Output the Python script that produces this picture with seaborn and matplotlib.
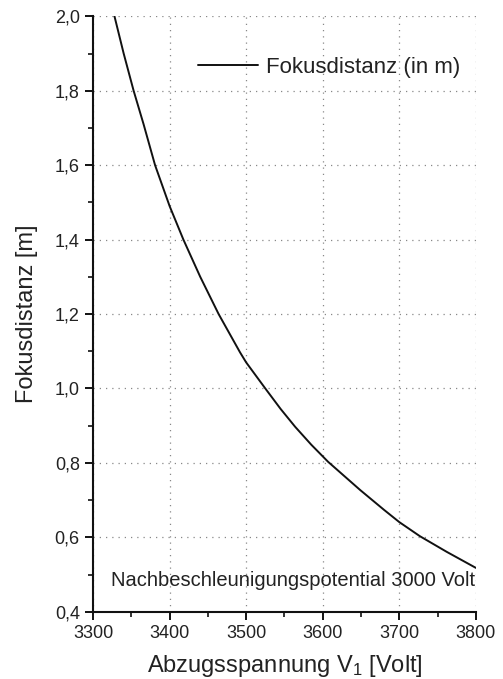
import matplotlib
matplotlib.use("Agg")
import matplotlib.pyplot as plt
import seaborn as sns
import pandas as pd
from matplotlib.ticker import MultipleLocator, FuncFormatter

# Data
voltage = [3328, 3340, 3353, 3366, 3381, 3400, 3418, 3440, 3464, 3492, 3500, 3525,
           3545, 3564, 3585, 3607, 3649, 3680, 3700, 3727, 3762, 3800]
focus = [2.0, 1.9, 1.8, 1.71, 1.6, 1.49, 1.4, 1.30, 1.2, 1.097, 1.07, 1.0,
         0.945, 0.897, 0.849, 0.803, 0.727, 0.674, 0.641, 0.603, 0.561, 0.518]
series_name = "Fokusdistanz (in m)"
x_label = "Abzugsspannung V$_\\mathregular{1}$ [Volt]"
y_label = "Fokusdistanz [m]"
note = "Nachbeschleunigungspotential 3000 Volt"

df = pd.DataFrame({"V": voltage, "f": focus, "s": series_name})

sns.set_theme(style="ticks")
plt.rcParams["font.family"] = ["Liberation Sans", "DejaVu Sans"]
plt.rcParams["mathtext.default"] = "regular"
txt = "#222222"

fig = plt.figure(figsize=(5.03, 6.79), dpi=100)
ax = fig.add_axes([0.185, 0.099, 0.761, 0.877])

sns.lineplot(data=df, x="V", y="f", hue="s", palette=["#111111"], ax=ax,
             linewidth=1.4, sort=False)

ax.set_xlim(3300, 3800)
ax.set_ylim(0.4, 2.0)
ax.xaxis.set_major_locator(MultipleLocator(100))
ax.xaxis.set_minor_locator(MultipleLocator(50))
ax.yaxis.set_major_locator(MultipleLocator(0.2))
ax.yaxis.set_minor_locator(MultipleLocator(0.1))
ax.yaxis.set_major_formatter(FuncFormatter(lambda v, p: f"{v:.1f}".replace(".", ",")))
ax.xaxis.set_major_formatter(FuncFormatter(lambda v, p: f"{v:.0f}"))

ax.grid(True, which="major", linestyle=(0, (1, 4)), color="#888888", linewidth=0.9)
for s in ["top", "right"]:
    ax.spines[s].set_visible(False)
for s in ["left", "bottom"]:
    ax.spines[s].set_color("#111111")
    ax.spines[s].set_linewidth(1.5)

ax.tick_params(which="major", direction="out", length=6, width=1.4, colors="#111111",
               labelsize=13, labelcolor=txt)
ax.tick_params(which="minor", direction="out", length=3.5, width=1.2, colors="#111111")

ax.set_xlabel(x_label, fontsize=17, color=txt, labelpad=8)
ax.set_ylabel(y_label, fontsize=17, color=txt, labelpad=12)

leg = ax.legend(loc="center right", bbox_to_anchor=(0.96, 0.914), frameon=False,
                fontsize=16, handlelength=2.7, handletextpad=0.35,
                borderpad=0, borderaxespad=0)
for t in leg.get_texts():
    t.set_color(txt)

ax.text(0.997, 0.052, note, transform=ax.transAxes, ha="right", va="center",
        fontsize=14.5, color=txt)

fig.savefig("out.png", dpi=100)
